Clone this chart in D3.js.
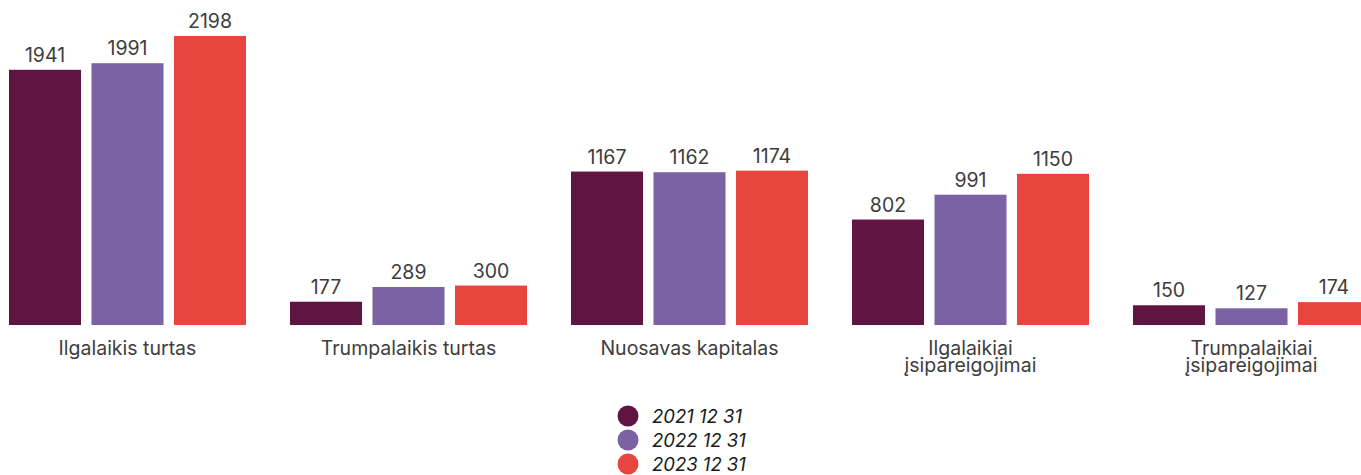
<!DOCTYPE html>
<html>
<head>
<meta charset="utf-8">
<script src="https://cdn.jsdelivr.net/npm/d3@7"></script>
<style>
  body { margin: 0; background: #fff; }
  svg { display: block; font-family: Inter, "Open Sans", sans-serif; }
</style>
</head>
<body>
<svg width="1361" height="475"></svg>
<script>
// categories (label lines) and series
var categories = ["Ilgalaikis turtas", "Trumpalaikis turtas", "Nuosavas kapitalas", "Ilgalaikiai įsipareigojimai", "Trumpalaikiai įsipareigojimai"];
var categoryLines = [["Ilgalaikis turtas"], ["Trumpalaikis turtas"], ["Nuosavas kapitalas"], ["Ilgalaikiai", "įsipareigojimai"], ["Trumpalaikiai", "įsipareigojimai"]];
var seriesNames = ["2021 12 31", "2022 12 31", "2023 12 31"];
var values2021 = [1941, 177, 1167, 802, 150];
var values2022 = [1991, 289, 1162, 991, 127];
var values2023 = [2198, 300, 1174, 1150, 174];
var colors = ["#5f1441", "#7b62a5", "#e8453e"];

var seriesValues = [values2021, values2022, values2023];
var data = categories.map(function(c, i) {
    return { cat: c, lines: categoryLines[i], vals: seriesValues.map(function(s, j) { return { name: seriesNames[j], v: s[i] }; }) };
});

var svg = d3.select("svg");

var x0 = d3.scaleBand()
    .domain(categories)
    .range([-13, 1392])
    .paddingInner(0.1566)
    .paddingOuter(0.0783);

var x1 = d3.scaleBand()
    .domain(seriesNames)
    .range([0, x0.bandwidth()])
    .paddingInner(0.127);

var color = d3.scaleOrdinal().domain(seriesNames).range(colors);

var y = d3.scaleLinear()
    .domain([0, 2198])
    .range([325, 36]);

var groups = svg.selectAll("g.group").data(data)
    .enter().append("g")
    .attr("class", "group")
    .attr("transform", function(d) { return "translate(" + x0(d.cat) + ",0)"; });

groups.selectAll("rect").data(function(d) { return d.vals; })
    .enter().append("rect")
    .attr("x", function(d) { return x1(d.name); })
    .attr("y", function(d) { return y(d.v); })
    .attr("width", x1.bandwidth())
    .attr("height", function(d) { return y(0) - y(d.v); })
    .style("fill", function(d) { return color(d.name); });

// value labels
groups.selectAll("text.val").data(function(d) { return d.vals; })
    .enter().append("text")
    .attr("class", "val")
    .attr("x", function(d) { return x1(d.name) + x1.bandwidth() / 2; })
    .attr("y", function(d) { return y(d.v) - 8; })
    .attr("text-anchor", "middle")
    .style("font-size", "19.5px")
    .style("fill", "#3d3d3d")
    .text(function(d) { return d.v; });

// category labels
var catText = groups.append("text")
    .attr("x", x0.bandwidth() / 2)
    .attr("y", 355)
    .attr("text-anchor", "middle")
    .style("font-size", "19.5px")
    .style("fill", "#3d3d3d");

catText.selectAll("tspan").data(function(d) { return d.lines; })
    .enter().append("tspan")
    .attr("x", x0.bandwidth() / 2)
    .attr("dy", function(d, i) { return i ? 17 : 0; })
    .text(function(d) { return d; });

// legend
var legend = svg.append("g").attr("transform", "translate(628,416)");
var items = legend.selectAll("g").data(seriesNames)
    .enter().append("g")
    .attr("transform", function(d, i) { return "translate(0," + i * 24 + ")"; });

items.append("circle")
    .attr("r", 10.5)
    .style("fill", function(d) { return color(d); });

items.append("text")
    .attr("x", 24)
    .attr("y", 7)
    .style("font-size", "18.5px")
    .style("font-style", "italic")
    .style("fill", "#1a1a1a")
    .text(function(d) { return d; });
</script>
</body>
</html>
